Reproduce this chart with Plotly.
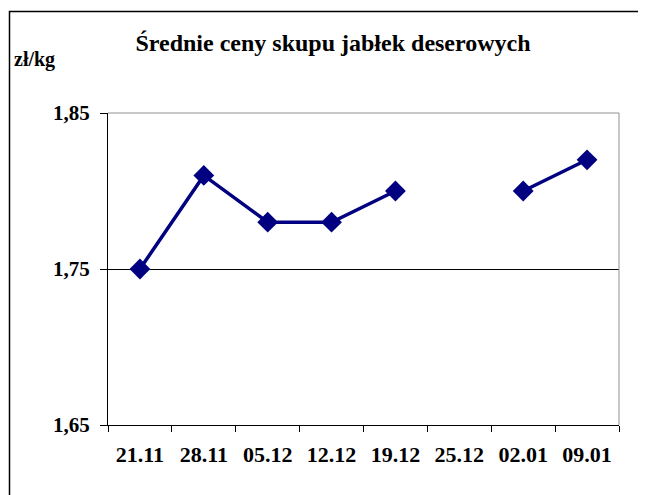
import plotly.graph_objects as go

categories = ["21.11", "28.11", "05.12", "12.12", "19.12", "25.12", "02.01", "09.01"]
prices = [1.75, 1.81, 1.78, 1.78, 1.80, None, 1.80, 1.82]
y_ticks = [1.65, 1.75, 1.85]
y_tick_labels = ["1,65", "1,75", "1,85"]

FONT = "Liberation Serif, Times New Roman, Times, serif"
# page body has an 8px margin, so figure coords = screen coords - 8
L, T, R, B = 100, 105, 35, 78
W, H = 646, 495
PW, PH = W - L - R, H - T - B


def px(x):  # screen x -> paper
    return (x - 8 - L) / PW


def py(y):  # screen y -> paper
    return (H - B - (y - 8)) / PH


fig = go.Figure()
fig.add_trace(go.Scatter(
    x=categories, y=prices, mode="lines+markers",
    line=dict(color="#000080", width=3.5),
    marker=dict(symbol="diamond", size=16, color="#000080"),
    connectgaps=False, showlegend=False, hoverinfo="skip",
))

fig.update_layout(
    width=W, height=H,
    margin=dict(l=L, r=R, t=T, b=B),
    paper_bgcolor="white", plot_bgcolor="white",
    title=dict(text="<b>Średnie ceny skupu jabłek deserowych</b>",
               x=(333 - 8) / W, xanchor="center", y=1 - (43 - 8) / H, yanchor="middle",
               font=dict(family=FONT, size=24, color="black")),
    xaxis=dict(type="category", range=[-0.5, 7.5], tickson="boundaries",
               ticks="outside", ticklen=6, tickcolor="black",
               showline=True, linecolor="black", linewidth=1,
               showgrid=False, zeroline=False, ticklabelstandoff=10,
               tickfont=dict(family=FONT, size=22, color="black", weight="bold")),
    yaxis=dict(range=[1.65, 1.85], tickvals=y_ticks, ticktext=y_tick_labels,
               ticks="outside", ticklen=7, tickcolor="black",
               showline=True, linecolor="black", linewidth=1,
               showgrid=True, gridcolor="black", gridwidth=1, zeroline=False,
               ticklabelstandoff=6,
               tickfont=dict(family=FONT, size=21, color="black", weight="bold")),
    shapes=[
        dict(type="line", xref="paper", yref="paper", x0=0, x1=1, y0=1, y1=1,
             line=dict(color="#909090", width=1)),
        dict(type="line", xref="paper", yref="paper", x0=1, x1=1, y0=0, y1=1,
             line=dict(color="#909090", width=1)),
        dict(type="rect", xref="paper", yref="paper",
             x0=px(9.5), x1=2, y0=-1, y1=py(11.5),
             line=dict(color="black", width=1.5)),
    ],
    annotations=[
        dict(text="<b>zł/kg</b>", xref="paper", yref="paper",
             x=px(12), y=py(60), xanchor="left", yanchor="middle",
             showarrow=False, font=dict(family=FONT, size=20, color="black")),
    ],
)

fig.write_html("out.html")
